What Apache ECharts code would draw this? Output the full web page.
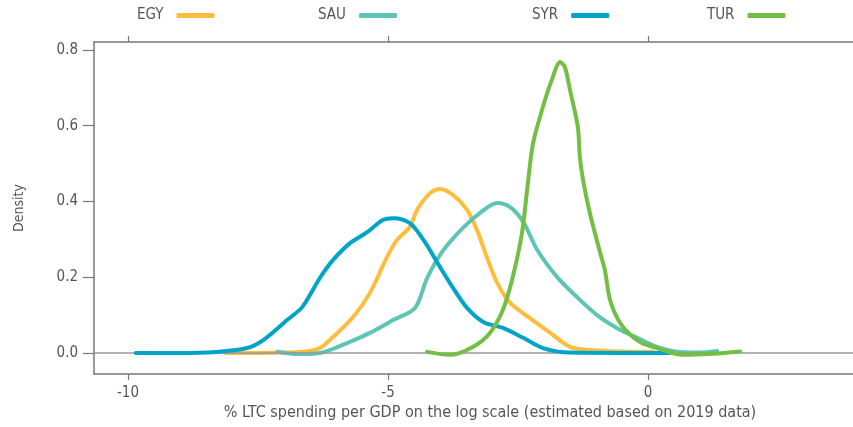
<!DOCTYPE html>
<html><head><meta charset="utf-8">
<script src="https://cdn.jsdelivr.net/npm/echarts@6/dist/echarts.min.js"></script>
<style>html,body{margin:0;padding:0;background:#fff}#c{width:853px;height:427px}</style>
</head><body><div id="c"></div>
<script>
const countries = ['EGY', 'SAU', 'SYR', 'TUR'];
const colors = ['#FFBC3D', '#5EC5B5', '#00A3C9', '#72BF44'];

const egyX = [-8.13,-7.5,-7.0,-6.56,-6.31,-6.06,-5.67,-5.35,-5.02,-4.83,-4.58,-4.44,-4.19,-4.0,-3.75,-3.48,-3.29,-3.10,-2.90,-2.65,-2.27,-1.88,-1.50,-1.12,-0.5,0.1];
const egyY = [0,0,0.001,0.004,0.013,0.042,0.095,0.158,0.253,0.298,0.333,0.378,0.422,0.433,0.417,0.378,0.325,0.253,0.185,0.132,0.092,0.053,0.016,0.008,0.004,0.003];

const sauX = [-7.13,-6.75,-6.31,-5.79,-5.35,-4.90,-4.48,-4.25,-3.97,-3.56,-3.23,-2.90,-2.65,-2.40,-2.13,-1.75,-1.37,-0.98,-0.60,-0.21,0.17,0.56,0.95,1.33];
const sauY = [0.003,-0.003,0.0,0.026,0.053,0.087,0.119,0.197,0.265,0.330,0.370,0.396,0.385,0.346,0.272,0.201,0.148,0.100,0.066,0.040,0.016,0.003,0.001,0.005];

const syrX = [-9.85,-9.0,-8.37,-7.71,-7.40,-6.94,-6.65,-6.31,-6.06,-5.73,-5.40,-5.10,-4.90,-4.58,-4.33,-4.00,-3.75,-3.48,-3.17,-2.79,-2.40,-2.02,-1.50,-0.5,0.42];
const syrY = [0,0,0.002,0.013,0.034,0.087,0.121,0.198,0.245,0.290,0.319,0.351,0.356,0.343,0.301,0.227,0.172,0.119,0.082,0.066,0.040,0.013,0.001,0.0,0.0];

const turX = [-4.25,-3.81,-3.37,-3.04,-2.79,-2.60,-2.42,-2.31,-2.21,-2.02,-1.85,-1.69,-1.60,-1.50,-1.35,-1.31,-1.25,-1.12,-0.92,-0.83,-0.73,-0.54,-0.29,-0.10,0.17,0.67,1.25,1.77];
const turY = [0.003,-0.005,0.016,0.053,0.114,0.201,0.32,0.449,0.554,0.650,0.721,0.768,0.755,0.694,0.597,0.517,0.457,0.370,0.264,0.219,0.140,0.080,0.042,0.025,0.013,-0.005,-0.002,0.004];

const xTicks = [-10, -5, 0];
const yTicks = [0, 0.2, 0.4, 0.6, 0.8];
const xTitle = '% LTC spending per GDP on the log scale (estimated based on 2019 data)';
const yTitle = 'Density';

const seriesX = [egyX, sauX, syrX, turX];
const seriesY = [egyY, sauY, syrY, turY];

const FONT = "'Liberation Sans Narrow', 'DejaVu Sans Condensed', 'Roboto', sans-serif";
const GREY = '#555';
const AXC = '#777';

const chart = echarts.init(document.getElementById('c'), null, {renderer: 'canvas'});

const legendLefts = [137, 318, 532, 707];
const legends = countries.map((c, i) => ({
  data: [c], left: legendLefts[i], top: 8, padding: 0, align: 'right',
  icon: 'roundRect', itemWidth: 38, itemHeight: 5,
  textStyle: {color: GREY, fontSize: 15, fontFamily: FONT, padding: [0, 8, 0, 0]}
}));

const series = countries.map((c, i) => ({
  name: c, type: 'line', showSymbol: false, smooth: 0.3,
  data: seriesX[i].map((x, j) => [x, seriesY[i][j]]),
  lineStyle: {color: colors[i], width: 4, cap: 'round', join: 'round'},
  itemStyle: {color: colors[i]}, z: 3 + i
}));
series.unshift({
  type: 'line', data: [], z: 1, silent: true,
  markLine: {silent: true, symbol: ['none', 'none'], label: {show: false},
    lineStyle: {color: '#999', width: 1.5, type: 'solid'}, data: [{yAxis: 0}]}
});

const xMin = -10.654, xMax = 3.942;
chart.setOption({
  animation: false,
  grid: {left: 94, right: 0, top: 42, bottom: 53},
  legend: legends,
  xAxis: [{
    type: 'value', min: xMin, max: xMax, position: 'bottom',
    axisLine: {show: true, onZero: false, lineStyle: {color: AXC, width: 1.5}},
    axisTick: {show: true, length: 6, customValues: xTicks, lineStyle: {color: AXC, width: 1.2}},
    axisLabel: {customValues: xTicks, color: GREY, fontSize: 15, fontFamily: FONT, margin: 12},
    splitLine: {show: false}
  }, {
    type: 'value', min: xMin, max: xMax, position: 'top',
    axisLine: {show: true, onZero: false, lineStyle: {color: AXC, width: 1.5}},
    axisTick: {show: true, length: 6, customValues: xTicks, lineStyle: {color: AXC, width: 1.2}},
    axisLabel: {show: false},
    splitLine: {show: false}
  }],
  yAxis: {
    type: 'value', min: -0.0555, max: 0.821,
    name: yTitle, nameLocation: 'middle', nameGap: 68,
    nameTextStyle: {color: GREY, fontSize: 14, fontFamily: FONT},
    axisLine: {show: true, onZero: false, lineStyle: {color: AXC, width: 1.5}},
    axisTick: {show: true, length: 11, customValues: yTicks, lineStyle: {color: AXC, width: 1.2}},
    axisLabel: {customValues: yTicks, formatter: v => v.toFixed(1), color: GREY, fontSize: 15, fontFamily: FONT, margin: 16},
    splitLine: {show: false}
  },
  graphic: [{
    type: 'text', x: 490, y: 413,
    style: {text: xTitle, fill: GREY, fontSize: 16, fontFamily: FONT, textAlign: 'center', textVerticalAlign: 'middle'}
  }],
  series: series
});
</script>
</body></html>
